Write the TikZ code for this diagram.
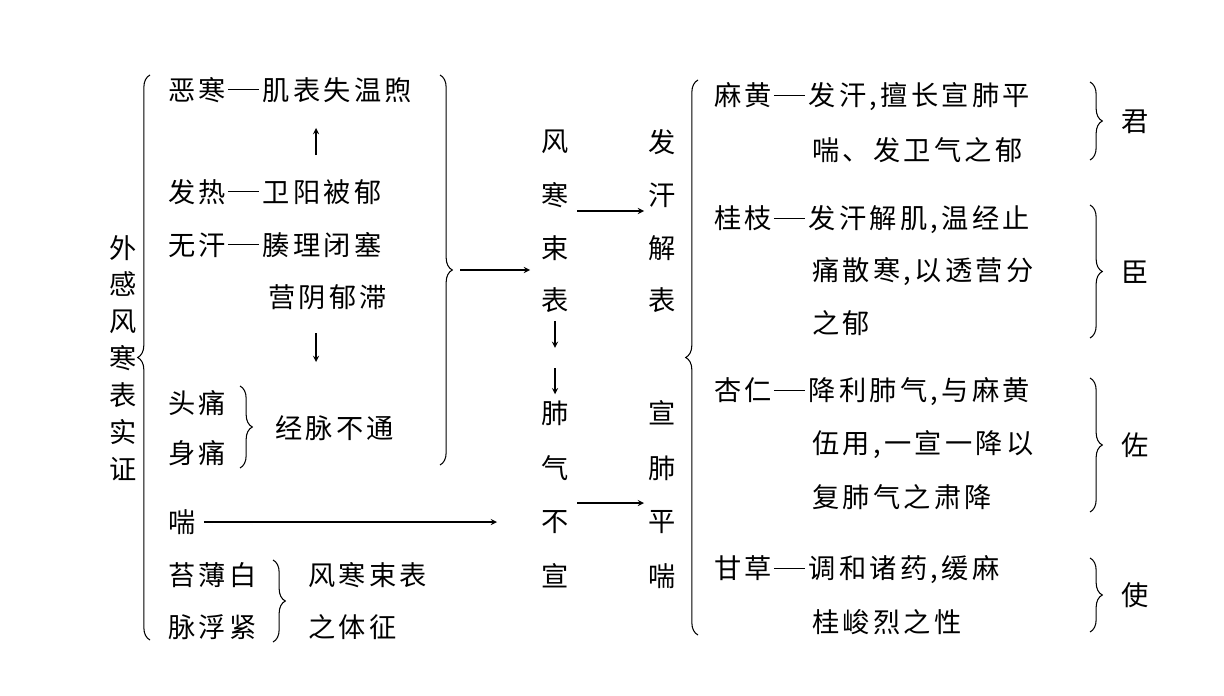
\documentclass[tikz,border=0pt]{standalone}
\usepackage{fontspec}
\newfontfamily\cjk[LetterSpace=12]{Noto Sans CJK SC}
\usetikzlibrary{decorations.pathreplacing}
\newcommand\ldash{\kern1pt\rule[0.38em]{1.15em}{0.5pt}\kern2pt}
\tikzset{
  txt/.style={anchor=west,inner sep=0pt,font=\cjk\fontsize{15.5}{18}\selectfont},
  col/.style={inner sep=0pt,font=\cjk\fontsize{15.5}{18}\selectfont},
  br/.style={decorate,decoration={brace,amplitude=7pt},line width=0.6pt},
  brm/.style={decorate,decoration={brace,amplitude=7pt,mirror},line width=0.6pt},
  arr/.style={->,>=stealth,line width=0.6pt}
}
\begin{document}
\begin{tikzpicture}[x=0.02cm,y=-0.02cm]
	\useasboundingbox (0,0) rectangle (1224,696);
	
	%left title
	\node[col,align=center] (title) at (123,358) {外\\[3pt]感\\[3pt]风\\[3pt]寒\\[3pt]表\\[3pt]实\\[3pt]证};
	\draw[brm] (150,75)--(150,640);
	
	%symptoms
	\node[txt] (ehan) at (168,90) {恶寒\ldash 肌表失温煦};
	\node[txt] (fare) at (168,192) {发热\ldash 卫阳被郁};
	\node[txt] (wuhan) at (168,245) {无汗\ldash 腠理闭塞};
	\node[txt] (ying) at (268,297) {营阴郁滞};
	\coordinate (up1) at (316,155);
	\coordinate (up2) at (316,128);
	\draw[arr] (up1)--(up2);
	\coordinate (dn1) at (316,333);
	\coordinate (dn2) at (316,362);
	\draw[arr] (dn1)--(dn2);
	\node[txt] (tou) at (168,403) {头痛};
	\node[txt] (shen) at (168,453) {身痛};
	\draw[br] (240,386)--(240,468);
	\node[txt] (jing) at (275,428) {经脉不通};
	\node[txt] (chuan) at (168,522) {喘};
	\node[txt] (tai) at (168,575) {苔薄白};
	\node[txt] (mai) at (168,627) {脉浮紧};
	\draw[br] (273,560)--(273,642);
	\node[txt] (zheng1) at (308,575) {风寒束表};
	\node[txt] (zheng2) at (308,627) {之体征};
	
	%middle
	\draw[br] (440,75)--(440,465);
	\coordinate (tip) at (460,270);
	\foreach \c/\t [count=\i] in {142/风,195/寒,248/束,300/表}
	\node[col] (a\i) at (555,\c) {\t};
	\foreach \c/\t [count=\i] in {142/发,195/汗,248/解,300/表}
	\node[col] (b\i) at (662,\c) {\t};
	\foreach \c/\t [count=\i] in {413/肺,468/气,522/不,576/宣}
	\node[col] (c\i) at (555,\c) {\t};
	\foreach \c/\t [count=\i] in {413/宣,468/肺,522/平,576/喘}
	\node[col] (d\i) at (662,\c) {\t};
	\draw[arr] (tip)--(530,270);
	\draw[arr] (chuan.east)++(8,0)--(497,522);
	\draw[arr] (577,211)--(644,211);
	\draw[arr] (577,503)--(644,503);
	\draw[arr] (a4.south)++(0,8)--++(0,27);
	\draw[arr] (c1.north)++(0,-32)--++(0,26);
	
	%right
	\draw[brm] (698,80)--(698,635);
	\node[txt] (mh1) at (714,97) {麻黄\ldash 发汗,擅长宣肺平};
	\node[txt] (mh2) at (812,150) {喘、发卫气之郁};
	\draw[br] (1090,82)--(1090,160);
	\node[col] (jun) at (1135,122) {君};
	\node[txt] (gz1) at (714,220) {桂枝\ldash 发汗解肌,温经止};
	\node[txt] (gz2) at (812,272) {痛散寒,以透营分};
	\node[txt] (gz3) at (812,323) {之郁};
	\draw[br] (1090,205)--(1090,338);
	\node[col] (chen) at (1135,272) {臣};
	\node[txt] (xr1) at (714,392) {杏仁\ldash 降利肺气,与麻黄};
	\node[txt] (xr2) at (812,445) {伍用,一宣一降以};
	\node[txt] (xr3) at (812,497) {复肺气之肃降};
	\draw[br] (1090,378)--(1090,512);
	\node[col] (zuo) at (1135,445) {佐};
	\node[txt] (gc1) at (714,570) {甘草\ldash 调和诸药,缓麻};
	\node[txt] (gc2) at (812,622) {桂峻烈之性};
	\draw[br] (1090,558)--(1090,632);
	\node[col] (shi) at (1135,595) {使};
\end{tikzpicture}
\end{document}
